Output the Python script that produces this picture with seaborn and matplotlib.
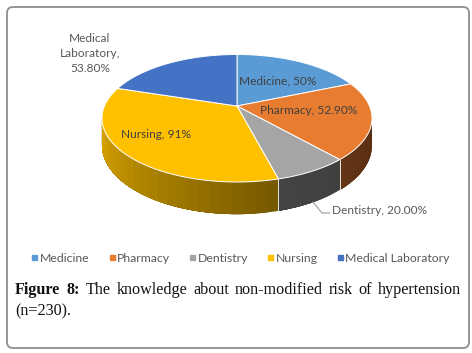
import numpy as np
import matplotlib
matplotlib.use("Agg")
import matplotlib.pyplot as plt
import seaborn as sns
from matplotlib.lines import Line2D
from matplotlib.patches import FancyBboxPatch

categories = ["Medicine", "Pharmacy", "Dentistry", "Nursing", "Medical Laboratory"]
values = [50, 52.9, 20, 91, 53.8]
value_labels = ["50%", "52.90%", "20.00%", "91%", "53.80%"]
top_colors = ["#5b9bd5", "#e87c31", "#a5a5a5", "#ffc000", "#4472c4"]
side_light = ["#5b9bd5", "#633416", "#444444", "#dba600", "#4472c4"]
side_dark = ["#5b9bd5", "#5a2e12", "#404040", "#775a00", "#4472c4"]
caption_bold = ["Figure", "8:"]
caption_line1 = ["The", "knowledge", "about", "non-modified", "risk", "of", "hypertension"]
caption_line2 = "(n=230)."

sns.set_theme(style="white")
plt.rcParams["font.family"] = ["Lato", "DejaVu Sans"]
LABEL = "#595959"
INNER = "#404040"

fig, ax = plt.subplots(figsize=(4.72, 3.53), dpi=100)
ax.set_position([0, 0, 1, 1])
ax.set_xlim(0, 472)
ax.set_ylim(353, 0)
ax.axis("off")
fig.patch.set_facecolor("white")

ax.add_patch(FancyBboxPatch((12, 12), 452, 331, boxstyle="round,pad=5,rounding_size=6",
                            fc="white", ec="#8f8f8f", lw=1.3, zorder=0))

# perspective projection of the tilted disc
CX, CY, RX, RY, K, DEPTH = 237.0, 106.0, 132.5, 61.4, 0.192, 26.0


def project(theta_deg, drop=0.0):
    t = np.radians(theta_deg)
    u, v = np.sin(t), np.cos(t)
    w = 1 + K * v
    return CX + RX * u / w, CY - RY * v / w + drop / w


edges = np.concatenate([[0], np.cumsum(values)]) / np.sum(values) * 360
RIGHT_END = np.degrees(np.arccos(-K))
LEFT_END = 360 - RIGHT_END

# rim: each band runs to the end of its slice and is overdrawn by the next, so no seams show
for i, _ in enumerate(categories):
    lo, hi = max(edges[i], RIGHT_END), min(edges[i + 1], LEFT_END)
    if hi <= lo:
        continue
    n = max(int((hi - lo) / 4), 1)
    shades = sns.blend_palette([side_dark[i], side_light[i]], n)
    cuts = np.linspace(lo, hi, n + 1)
    for j in range(n):
        th = np.linspace(cuts[j], hi, 60)
        x0, y0 = project(th)
        x1, y1 = project(th[::-1], DEPTH)
        ax.fill(np.r_[x0, x1], np.r_[y0, y1], color=shades[j], lw=0, zorder=2)
    if lo > RIGHT_END + 0.1:
        a, b = project(lo), project(lo, DEPTH)
        ax.plot([a[0], b[0]], [a[1], b[1]], color="#e6e6e6", lw=0.7, zorder=3)

# top face
for i, _ in enumerate(categories):
    th = np.linspace(edges[i], edges[i + 1], 80)
    x, y = project(th)
    ax.fill(np.r_[CX, x], np.r_[CY, y], facecolor=top_colors[i], edgecolor="white",
            lw=0.7, joinstyle="round", zorder=4)

# data labels
fs = 8.6
ax.text(239, 81, f"{categories[0]}, {value_labels[0]}", color=INNER, fontsize=fs,
        va="center", ha="left", zorder=5)
ax.text(260, 111, f"{categories[1]}, {value_labels[1]}", color=INNER, fontsize=fs,
        va="center", ha="left", zorder=5)
ax.text(332, 210, f"{categories[2]}, {value_labels[2]}", color=LABEL, fontsize=fs,
        va="center", ha="left", zorder=5)
ax.text(121, 135, f"{categories[3]}, {value_labels[3]}", color=INNER, fontsize=fs,
        va="center", ha="left", zorder=5)
ax.text(90, 53.5, "Medical\nLaboratory,\n" + value_labels[4], color=LABEL, fontsize=fs,
        va="center", ha="center", linespacing=1.42, zorder=5)
ax.plot([313, 322, 330], [202, 213, 213], color="#a6a6a6", lw=0.9, zorder=3)

# legend
handles = [Line2D([], [], ls="none", marker="s", ms=3.6, color=c) for c in top_colors]
ax.legend(handles, categories, loc="center", bbox_to_anchor=(240.5, 258),
          bbox_transform=ax.transData, ncol=5, frameon=False, fontsize=8.8,
          labelcolor=LABEL, handlelength=0.5, handletextpad=0.2, columnspacing=1.55,
          borderpad=0, borderaxespad=0)

# caption, justified between the two margins
cap = dict(family="Liberation Serif", color="#111111", va="center", ha="left", fontsize=11.6)
renderer = fig.canvas.get_renderer()
LEFT, RIGHT, Y1, Y2 = 15.0, 461.0, 290, 311
pieces = [ax.text(LEFT, Y1, w, fontweight="bold", **cap) for w in caption_bold]
pieces += [ax.text(LEFT, Y1, w, **cap) for w in caption_line1]
widths = [p.get_window_extent(renderer).width for p in pieces]
gap = (RIGHT - LEFT - sum(widths)) / (len(pieces) - 1)
pos = LEFT
for p, w in zip(pieces, widths):
    p.set_x(pos)
    pos += w + gap
ax.text(LEFT, Y2, caption_line2, **cap)

fig.savefig("out.png", dpi=100)
